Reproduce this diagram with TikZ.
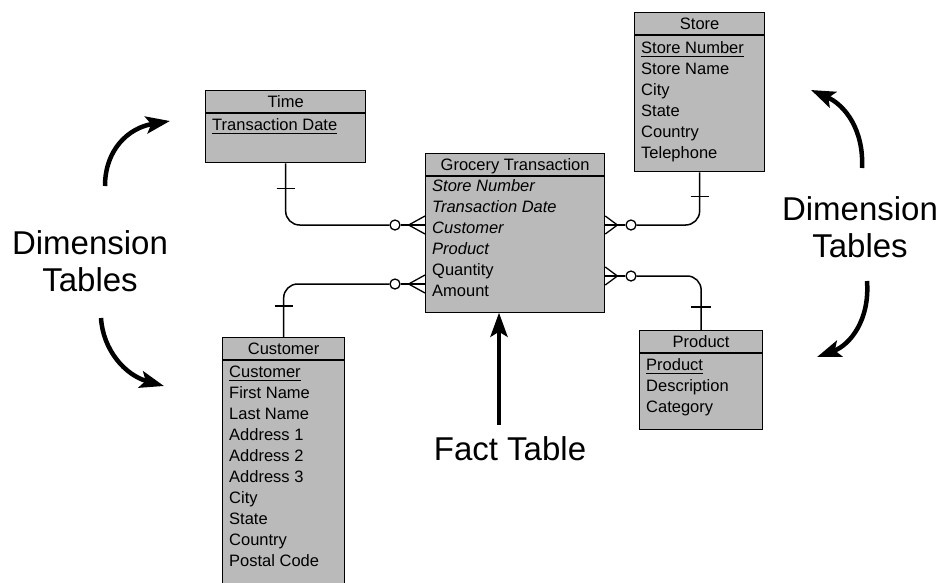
\documentclass[tikz,border=0pt]{standalone}
\usepackage{fontspec}
\setmainfont{Liberation Sans}
\usetikzlibrary{arrows.meta, positioning}

\begin{document}
\begin{tikzpicture}[x=1pt, y=-1pt,
    tbl/.style={draw, line width=1.3pt, fill=black!27, anchor=north west, inner sep=0pt},
    ttl/.style={inner sep=0pt, text height=12pt, text depth=0pt, font=\fontsize{16.5}{21}\selectfont},
    attr/.style={anchor=west, inner sep=0pt, text height=12pt, text depth=0pt, font=\fontsize{16.5}{21}\selectfont},
    sep/.style={draw, line width=1.5pt},
    rel/.style={draw, line width=1.5pt},
    opt/.style={circle, draw, line width=1.3pt, fill=white, minimum size=10pt, inner sep=0pt},
    bigarrow/.style={line width=4.5pt, -{Stealth[length=24pt, width=17pt, inset=5pt]}},
    lbl/.style={align=center, inner sep=0pt, font=\fontsize{33}{37}\selectfont}
]
\useasboundingbox (0,0) rectangle (940,582);

% Tables
\node[tbl, minimum width=160pt, minimum height=72pt] (time) at (205,90) {};
\node[tbl, minimum width=179pt, minimum height=159pt] (grocery) at (425,153) {};
\node[tbl, minimum width=130pt, minimum height=159pt] (store) at (634,12) {};
\node[tbl, minimum width=122pt, minimum height=260pt] (customer) at (222,337) {};
\node[tbl, minimum width=123pt, minimum height=99pt] (product) at (639,330) {};

% Titles
\foreach \tb/\name in {time/Time, grocery/Grocery Transaction, store/Store, customer/Customer, product/Product} {
  \node[ttl] (\tb-t) at ([yshift=-11pt]\tb.north) {\name};
  \draw[sep] ([yshift=-23pt]\tb.north west) -- ([yshift=-23pt]\tb.north east);
}

% Attributes
\foreach \t [count=\i] in {Transaction Date}
  \node[attr] (time-\i) at ([xshift=7pt, yshift={-13pt-21pt*\i}]time.north west) {\t};
\foreach \t [count=\i] in {\textit{Store Number}, \textit{Transaction Date}, \textit{Customer}, \textit{Product}, Quantity, Amount}
  \node[attr] (grocery-\i) at ([xshift=7pt, yshift={-11pt-21pt*\i}]grocery.north west) {\t};
\foreach \t [count=\i] in {Store Number, Store Name, City, State, Country, Telephone}
  \node[attr] (store-\i) at ([xshift=7pt, yshift={-14pt-21pt*\i}]store.north west) {\t};
\foreach \t [count=\i] in {Customer, First Name, Last Name, Address 1, Address 2, Address 3, City, State, Country, Postal Code}
  \node[attr] (customer-\i) at ([xshift=7pt, yshift={-13pt-21pt*\i}]customer.north west) {\t};
\foreach \t [count=\i] in {Product, Description, Category}
  \node[attr] (product-\i) at ([xshift=7pt, yshift={-13pt-21pt*\i}]product.north west) {\t};

% Key underlines
\foreach \k in {time-1, store-1, customer-1, product-1}
  \draw[sep] ([yshift=-3.5pt]\k.base west) -- ([yshift=-3.5pt]\k.base east);

% Relationships
\node[opt] (tg-o) at (395,225) {};
\node[opt] (cg-o) at (395,284) {};
\node[opt] (sg-o) at (631,225) {};
\node[opt] (pg-o) at (631,276) {};

\draw[rel, rounded corners=14pt] (time.south) |- (tg-o.west);
\draw[rel, rounded corners=14pt] (customer.north) |- (cg-o.west);
\draw[rel, rounded corners=14pt] (sg-o.east) -| (store.south);
\draw[rel, rounded corners=14pt] (pg-o.east) -| (product.north);

% one-side bars
\draw[rel] ([yshift=-25pt]time.south) ++(-9,0) -- ++(18,0);
\draw[rel] ([yshift=31pt]customer.north) ++(-9,0) -- ++(18,0);
\draw[rel] ([yshift=-24pt]store.south) ++(-9,0) -- ++(18,0);
\draw[rel] ([yshift=23pt]product.north) ++(-10,0) -- ++(20,0);

% crow's feet
\coordinate (tg-e) at (grocery.west |- tg-o);
\coordinate (cg-e) at (grocery.west |- cg-o);
\coordinate (sg-e) at (grocery.east |- sg-o);
\coordinate (pg-e) at (grocery.east |- pg-o);
\draw[rel] (tg-o.east) -- ++(8,0) coordinate (tg-f);
\draw[rel] (cg-o.east) -- ++(8,0) coordinate (cg-f);
\draw[rel] (sg-o.west) -- ++(-8,0) coordinate (sg-f);
\draw[rel] (pg-o.west) -- ++(-8,0) coordinate (pg-f);
\foreach \r in {tg, cg, sg, pg}
  \foreach \s in {-9, 0, 9}
    \draw[line width=1.3pt] (\r-f) -- ([yshift=\s pt]\r-e);

% Labels
\node[lbl] (dim-l) at (90,261) {Dimension\\Tables};
\node[lbl] (dim-r) at (860,227) {Dimension\\Tables};
\node[lbl] (fact) at (510,449) {Fact Table};

% Arrows
\draw[bigarrow] (105,186) .. controls (105,150) and (128,128) .. (170,121);
\draw[bigarrow] (101,318) .. controls (103,350) and (125,375) .. (164,386);
\draw[bigarrow] (862,168) .. controls (864,130) and (845,105) .. (811,90);
\draw[bigarrow] (867,281) .. controls (870,320) and (850,345) .. (817,357);
\draw[bigarrow] ([xshift=-11pt, yshift=12pt]fact.north) -- ++(0,-112);

\end{tikzpicture}
\end{document}
